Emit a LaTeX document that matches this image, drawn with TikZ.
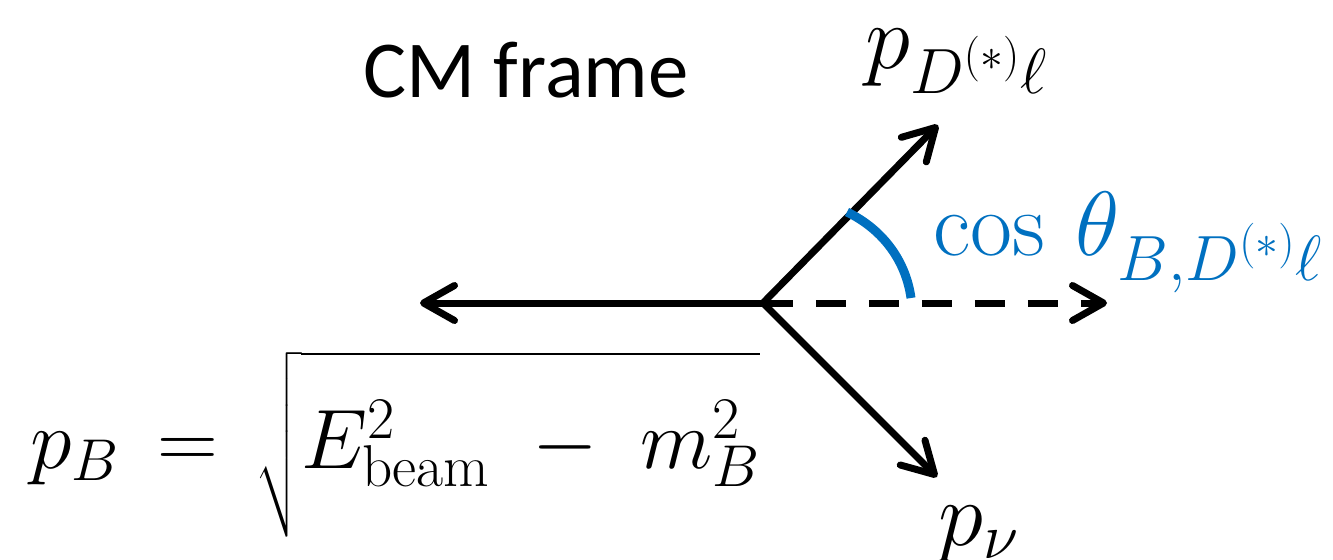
\RequirePackage{fix-cm}
\documentclass[tikz,border=0pt]{standalone}
\usepackage{amsmath}
\usepackage{fontspec}
\setsansfont{Carlito}
\usetikzlibrary{arrows.meta}
\definecolor{angblue}{HTML}{0070C0}
%% subscript set a little lower, as in the slide
\newcommand{\lowsub}[1]{\lower 6pt\hbox{$\scriptstyle #1$}}
\tikzset{
  %% momentum vectors
  vecarr/.style={-{Straight Barb[length=0.62cm,width=0.7cm,line cap=round,line join=round]},
    line width=0.14cm, line cap=round},
  vecref/.style={vecarr, dash pattern=on 0.6cm off 0.46cm, line cap=butt},
  %% angle mark
  angmark/.style={draw=angblue, line width=0.18cm},
  %% labels
  mathlbl/.style={anchor=base west, inner sep=0pt, font=\fontsize{52}{60}\selectfont},
  framelbl/.style={anchor=base west, inner sep=0pt, font=\sffamily\fontsize{46}{54}\selectfont},
}

\begin{document}
\begin{tikzpicture}[x=0.02cm, y=-0.02cm]
\useasboundingbox (0,0) rectangle (1333,559);

\coordinate (O)      at (763,303);
\coordinate (tipB)   at (420,303);
\coordinate (tipRef) at (1107,303);
\coordinate (tipDl)  at (938,125);
\coordinate (tipNu)  at (937,477);
\coordinate (angA)   at (847,212);
\coordinate (angB)   at (911,298);

\node[framelbl] (lFrame) at (363,97) {CM frame};
\node[mathlbl]  (lDl)    at (865,68) {$p_{\lowsub{D^{(*)}\ell}}$};
\node[mathlbl]  (lNu)    at (938,545) {$p_{\nu}$};
\node[mathlbl, text=angblue] (lCos) at (933,255) {$\cos\,\theta_{\lowsub{B,D^{(*)}\ell}}$};
\node[mathlbl, font=\fontsize{48}{56}\selectfont] (lPB) at (30,468)
  {$p_B\,=\,\sqrt{\rule[-0.75em]{0pt}{2em}E_{\mathrm{beam}}^2\;-\;m_B^2}$};

\draw[vecarr] (O) -- (tipB);
\draw[vecref] (O) -- (tipRef);
\draw[vecarr] (O) -- (tipDl);
\draw[vecarr] (O) -- (tipNu);

\draw[angmark] (angA) .. controls (884,230) and (906,262) .. (angB);

\end{tikzpicture}
\end{document}
